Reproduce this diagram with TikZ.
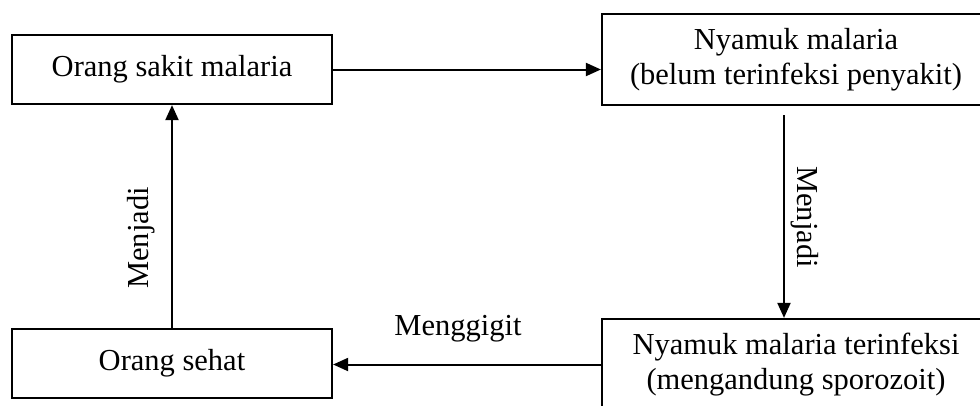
\documentclass[tikz,border=0pt]{standalone}
\usepackage{fontspec}
\setmainfont{Liberation Serif}
\usetikzlibrary{arrows.meta}
\begin{document}
\begin{tikzpicture}[x=1pt,y=-1pt,
  every node/.style={font=\fontsize{30.5}{34.5}\selectfont},
  box/.style={draw,line width=2.2pt,inner sep=0pt,align=center},
  arr/.style={line width=2pt,-{Triangle[length=15pt,width=13pt]}},
  lbl/.style={inner sep=0pt}]
\useasboundingbox (0,0) rectangle (980,405);
% the four stages of the cycle
\node[box,minimum width=320pt,minimum height=69pt] (sick) at (172,69.5) {Orang sakit malaria};
\node[box,minimum width=388pt,minimum height=91pt] (mosq) at (796,59.5) {Nyamuk malaria\\(belum terinfeksi penyakit)};
\node[box,minimum width=388pt,minimum height=91pt] (inf) at (796,364.5) {Nyamuk malaria terinfeksi\\(mengandung sporozoit)};
\node[box,minimum width=320pt,minimum height=69pt] (healthy) at (172,363.5) {Orang sehat};
% transitions
\coordinate (dstart) at (784,115);
\draw[arr] (sick.east) -- (sick.east -| mosq.west);
\draw[arr] (dstart) -- (dstart |- inf.north);
\draw[arr] (inf.west) -- (inf.west -| healthy.east);
\draw[arr] (healthy.north) -- (sick.south);
% transition labels
\node[lbl,rotate=90] (lblL) at (141,238) {Menjadi};
\node[lbl,rotate=-90] (lblR) at (805,217) {Menjadi};
\node[lbl,anchor=base] (lblB) at (458,335) {Menggigit};
\end{tikzpicture}
\end{document}
